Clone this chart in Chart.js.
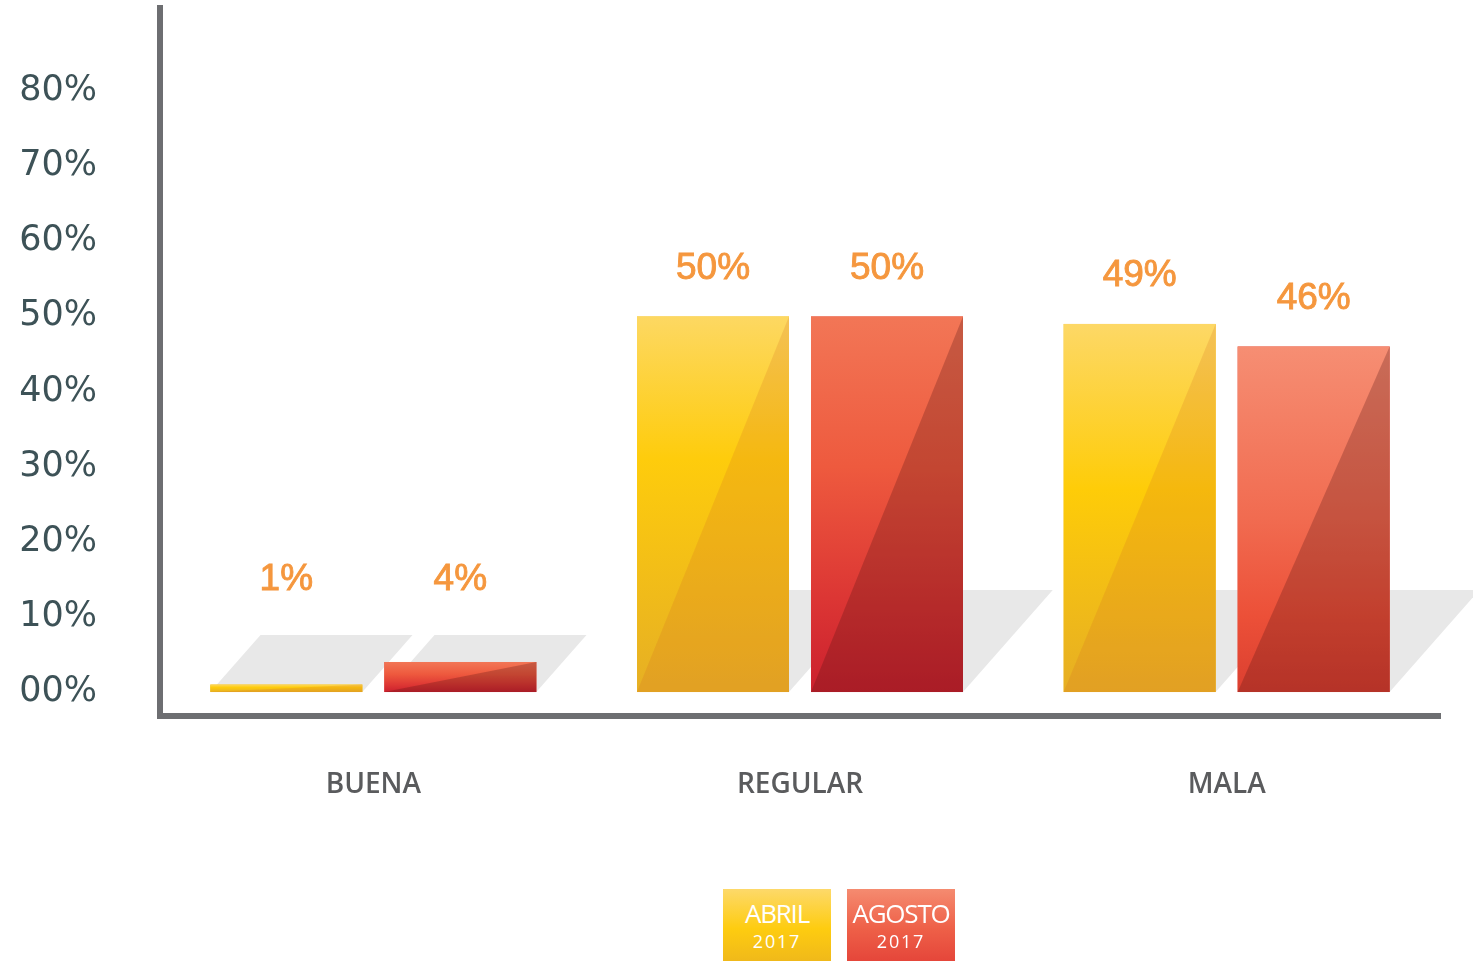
<!DOCTYPE html>
<html>
<head>
<meta charset="utf-8">
<script src="https://cdn.jsdelivr.net/npm/chart.js@4/dist/chart.umd.min.js"></script>
<style>
  html, body { margin: 0; padding: 0; background: #ffffff; overflow: hidden; }
  #wrap { position: relative; width: 1473px; height: 961px; }
  canvas { position: absolute; left: 0; top: 0; }
  .lg { position: absolute; top: 889px; width: 108px; height: 72px; color: #ffffff;
        font-family: "Open Sans", sans-serif; text-align: center; }
  .lg .a { position: absolute; left: 0; right: 0; top: 9px; font-size: 26px; line-height: 30px; letter-spacing: -1.2px; }
  .lg .b { position: absolute; left: 0; right: 0; top: 42px; font-size: 18px; line-height: 20px; letter-spacing: 1.8px; }
  #lg1 { left: 723px; background: linear-gradient(to bottom, #FDD96A 0%, #FECC10 55%, #F0B91A 100%); }
  #lg2 { left: 847px; background: linear-gradient(to bottom, #F58B70 0%, #EE6048 55%, #E5463A 100%); }
</style>
</head>
<body>
<div id="wrap">
  <canvas id="c" width="1473" height="961"></canvas>
  <div class="lg" id="lg1"><div class="a">ABRIL</div><div class="b">2017</div></div>
  <div class="lg" id="lg2"><div class="a">AGOSTO</div><div class="b">2017</div></div>
</div>
<script>
// ---- data ----
const categories = ['BUENA', 'REGULAR', 'MALA'];
const abril2017 = [1, 50, 49];
const agosto2017 = [4, 50, 46];
const seriesNames = ['ABRIL 2017', 'AGOSTO 2017'];
const yTickValues = [0, 10, 20, 30, 40, 50, 60, 70, 80];

// ---- styles ----
const gradStops = [
  [ [[0,'#FDD862'],[0.38,'#FECC0C'],[1,'#E6AF24']],
    [[0,'#FDD862'],[0.38,'#FECC0C'],[1,'#E6AF24']],
    [[0,'#FDD866'],[0.45,'#FECC08'],[1,'#E6AE24']] ],
  [ [[0,'#F27656'],[0.4,'#EE5A3E'],[0.75,'#DE3834'],[1,'#CB202E']],
    [[0,'#F27656'],[0.4,'#EE5A3E'],[0.75,'#DC3634'],[1,'#CB202E']],
    [[0,'#F68E73'],[0.5,'#F16B50'],[0.78,'#EC5038'],[1,'#DB3F30']] ]
];
const overlayCols = ['rgba(209,104,35,0.2)', 'rgba(80,20,20,0.27)'];

const decor = {
  id: 'decor',
  beforeDatasetsDraw(chart) {
    const ctx = chart.ctx;
    chart.data.datasets.forEach((ds, di) => {
      chart.getDatasetMeta(di).data.forEach((bar) => {
        const p = bar.getProps(['x', 'y', 'base', 'width'], true);
        const l = p.x - p.width / 2, r = p.x + p.width / 2;
        const h = (p.base - p.y) < 60 ? 57 : 102;
        const s = h * 0.88;
        ctx.save();
        ctx.fillStyle = '#E8E8E8';
        ctx.beginPath();
        ctx.moveTo(l, p.base); ctx.lineTo(r, p.base);
        ctx.lineTo(r + s, p.base - h); ctx.lineTo(l + s, p.base - h);
        ctx.closePath(); ctx.fill();
        ctx.restore();
      });
    });
  },
  afterDatasetsDraw(chart) {
    const ctx = chart.ctx;
    const yS = chart.scales.y;
    chart.data.datasets.forEach((ds, di) => {
      chart.getDatasetMeta(di).data.forEach((bar, i) => {
        const p = bar.getProps(['x', 'y', 'base', 'width'], true);
        const l = p.x - p.width / 2, r = p.x + p.width / 2;
        const top = p.y, bot = p.base;
        ctx.save();
        const g = ctx.createLinearGradient(0, top, 0, bot);
        gradStops[di][i].forEach(st => g.addColorStop(st[0], st[1]));
        ctx.fillStyle = g;
        ctx.fillRect(l, top, r - l, bot - top);
        ctx.fillStyle = overlayCols[di];
        ctx.beginPath();
        ctx.moveTo(l, bot); ctx.lineTo(r, top); ctx.lineTo(r, bot);
        ctx.closePath(); ctx.fill();
        // value label
        const v = ds.data[i];
        const ly = Math.min(top - 48, yS.getPixelForValue(15));
        ctx.fillStyle = '#F5973E';
        ctx.strokeStyle = '#F5973E';
        ctx.lineWidth = 0.9;
        ctx.font = '37px "Liberation Sans", Arial, sans-serif';
        ctx.textAlign = 'center';
        ctx.textBaseline = 'middle';
        ctx.fillText(v + '%', p.x, ly);
        ctx.strokeText(v + '%', p.x, ly);
        ctx.restore();
      });
    });
  }
};

new Chart(document.getElementById('c'), {
  type: 'bar',
  data: {
    labels: categories,
    datasets: [
      { label: seriesNames[0], data: abril2017, backgroundColor: '#F5C01A',
        categoryPercentage: 0.8156, barPercentage: 0.8736 },
      { label: seriesNames[1], data: agosto2017, backgroundColor: '#E0463A',
        categoryPercentage: 0.8156, barPercentage: 0.8736 }
    ]
  },
  options: {
    responsive: false,
    animation: false,
    layout: { padding: { top: 8, right: 33, left: 0, bottom: 0 } },
    plugins: { legend: { display: false }, tooltip: { enabled: false } },
    scales: {
      x: {
        grid: { display: false, drawTicks: false },
        border: { display: true, color: '#6D6E71', width: 6 },
        ticks: { color: '#5A5B5D', padding: 52,
                 font: { family: '"Open Sans", sans-serif', size: 28, weight: '600' } },
        afterFit(scale) {
          scale.height = 961 - 716;
          scale.paddingLeft = 0; scale.paddingRight = 0;
        }
      },
      y: {
        min: -3.19, max: 91.05,
        grid: { display: false, drawTicks: false },
        border: { display: true, color: '#6D6E71', width: 6 },
        afterBuildTicks(scale) { scale.ticks = yTickValues.map(v => ({ value: v })); },
        ticks: {
          color: '#3D5257', padding: 63,
          font: { family: '"DejaVu Sans", sans-serif', size: 35 },
          callback: (v) => (v === 0 ? '00' : String(v)) + '%'
        },
        afterFit(scale) {
          scale.width = 160;
          scale.paddingTop = 0; scale.paddingBottom = 0;
        }
      }
    }
  },
  plugins: [decor]
});
</script>
</body>
</html>
